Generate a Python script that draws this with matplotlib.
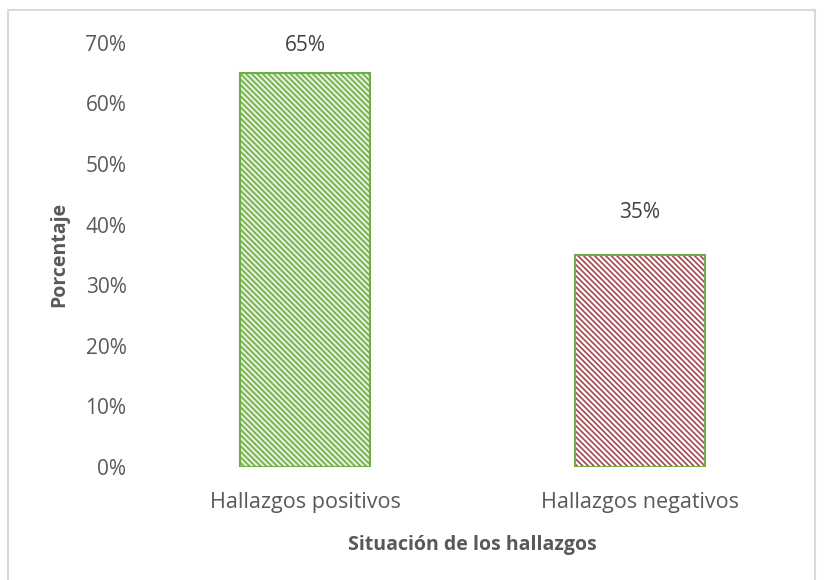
import matplotlib.pyplot as plt
from matplotlib.patches import Rectangle

# data
categorias = ['Hallazgos positivos', 'Hallazgos negativos']
porcentajes = [0.65, 0.35]
etiquetas = ['65%', '35%']
yticks = [0, 0.1, 0.2, 0.3, 0.4, 0.5, 0.6, 0.7]

plt.rcParams['font.family'] = ['Open Sans', 'DejaVu Sans']
plt.rcParams['hatch.linewidth'] = 1.2
gris = '#595959'

fig = plt.figure(figsize=(8.24, 5.8), dpi=100)
ax = fig.add_axes([0.167, 0.195, 0.813, 0.731])

x = range(len(categorias))
caras = ['#e2f0d9', 'white']
rayas = ['#70ad47', '#a5474e']
# hatch drawn with its own colour, then the green outline on top
ax.bar(x, porcentajes, width=0.39, color=caras, edgecolor=rayas,
       hatch='\\' * 6, linewidth=0)
ax.bar(x, porcentajes, width=0.39, color='none', edgecolor='#70ad47',
       linewidth=1.5)

# Excel pushes the tall bar's label down against the top of the plot area
offs = [0.045, 0.07]
for i, v in enumerate(porcentajes):
    ax.text(i, v + offs[i], etiquetas[i], ha='center', va='center',
            fontsize=15, color='#404040', clip_on=False)

ax.set_xlim(-0.5, 1.5)
ax.set_ylim(0, 0.7)
ax.set_yticks(yticks)
ax.set_yticklabels([f'{int(round(t*100))}%' for t in yticks])
ax.set_xticks(list(x))
ax.set_xticklabels(categorias)
ax.tick_params(length=0, labelsize=15, labelcolor=gris)
ax.tick_params(axis='x', pad=18, labelsize=15.5)
ax.tick_params(axis='y', pad=8)
for s in ax.spines.values():
    s.set_visible(False)

ax.set_ylabel('Porcentaje', fontsize=14, fontweight='bold', color=gris,
              labelpad=12)
ax.set_xlabel('Situación de los hallazgos', fontsize=14, fontweight='bold',
              color=gris, labelpad=16)

fig.patches.append(Rectangle((0.01, -0.05), 0.979, 1.033,
                             transform=fig.transFigure, fill=False,
                             edgecolor='#d9d9d9', linewidth=1.5))

fig.savefig('out.png', dpi=100)
